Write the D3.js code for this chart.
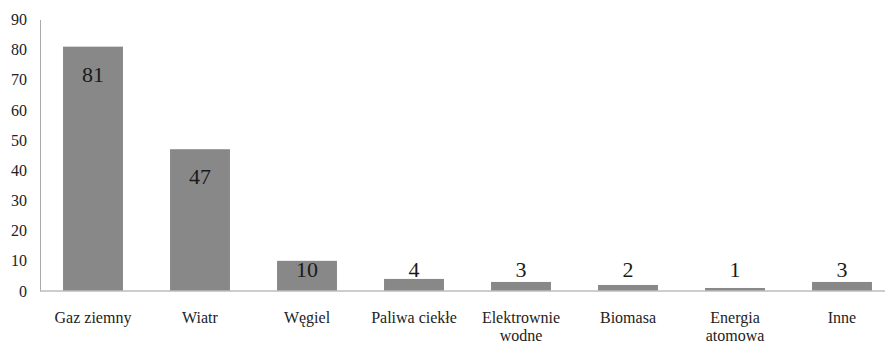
<!DOCTYPE html>
<html>
<head>
<meta charset="utf-8">
<script src="https://cdn.jsdelivr.net/npm/d3@7"></script>
<style>
  html, body { margin: 0; padding: 0; background: #fff; }
  svg { display: block; }
</style>
</head>
<body>
<svg id="chart" width="885" height="343"></svg>
<script>
// Source categories and their values
const categories = ["Gaz ziemny", "Wiatr", "Węgiel", "Paliwa ciekłe", "Elektrownie wodne", "Biomasa", "Energia atomowa", "Inne"];
const values = [81, 47, 10, 4, 3, 2, 1, 3];
const yTicks = [0, 10, 20, 30, 40, 50, 60, 70, 80, 90];

const FONT = "Liberation Serif";
const svg = d3.select("#chart");
const W = 885, H = 343;
const plotLeft = 40, baseY = 291, topY = 19.5;

// The band range runs a little past the right edge, as the plot area does
const x = d3.scaleBand()
  .domain(categories)
  .range([39.5, 895.5])
  .paddingInner(0.44)
  .paddingOuter(0.22);

const y = d3.scaleLinear()
  .domain([0, 90])
  .range([baseY, topY]);

// Bars
svg.append("g").selectAll("rect")
  .data(values)
  .join("rect")
  .attr("x", (d, i) => x(categories[i]))
  .attr("width", x.bandwidth())
  .attr("y", d => y(d))
  .attr("height", d => y(0) - y(d))
  .attr("fill", "#888888");

// Y axis: labels plus its own line
const yAxis = svg.append("g")
  .attr("transform", `translate(${plotLeft},0)`)
  .call(d3.axisLeft(y).tickValues(yTicks).tickSize(0).tickPadding(13));
yAxis.attr("font-family", FONT).attr("font-size", 16);
yAxis.select(".domain").attr("stroke", "#aaaaaa").attr("stroke-width", 1);
yAxis.selectAll("text").attr("fill", "#222");

// X axis baseline
svg.append("line")
  .attr("x1", plotLeft).attr("x2", W)
  .attr("y1", y(0)).attr("y2", y(0))
  .attr("stroke", "#bcbcbc").attr("stroke-width", 1.6);

// Category labels, wrapped when too wide for a band
const xl = svg.append("g")
  .attr("font-family", FONT)
  .attr("font-size", 16)
  .attr("fill", "#222")
  .selectAll("text")
  .data(categories)
  .join("text")
  .attr("x", d => x(d) + x.bandwidth() / 2)
  .attr("y", y(0) + 32)
  .attr("text-anchor", "middle");

xl.each(function(d) {
  const t = d3.select(this);
  const cx = x(d) + x.bandwidth() / 2;
  t.text(d);
  const words = d.split(" ");
  if (this.getComputedTextLength() > 95 && words.length > 1) {
    t.text(null);
    const last = words.pop();
    t.append("tspan").attr("x", cx).attr("dy", 0).text(words.join(" "));
    t.append("tspan").attr("x", cx).attr("dy", 18).text(last);
  }
});

// Value labels near the top end of each bar
svg.append("g")
  .attr("font-family", FONT)
  .attr("font-size", 22)
  .attr("fill", "#1a1a1a")
  .selectAll("text")
  .data(values)
  .join("text")
  .attr("x", (d, i) => x(categories[i]) + x.bandwidth() / 2)
  .attr("y", d => Math.min(y(d) + 35, 277))
  .attr("text-anchor", "middle")
  .text(d => d);
</script>
</body>
</html>
